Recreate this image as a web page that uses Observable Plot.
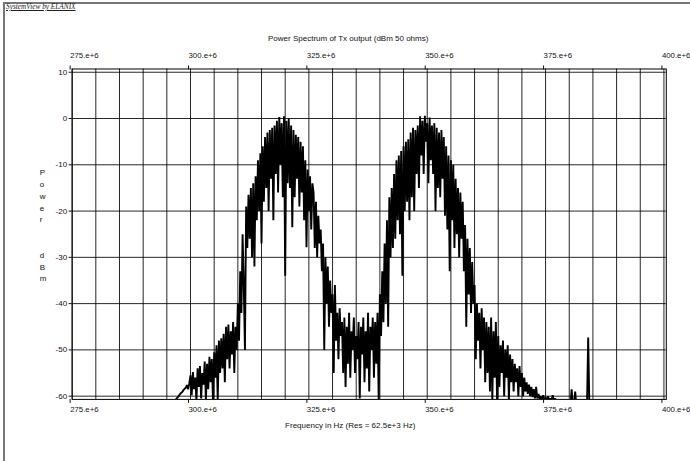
<!DOCTYPE html>
<html>
<head>
<meta charset="utf-8">
<script src="https://cdn.jsdelivr.net/npm/d3@7"></script>
<script src="https://cdn.jsdelivr.net/npm/@observablehq/plot@0.6"></script>
<style>
  html, body { margin: 0; padding: 0; background: #fff; }
  #wrap { position: relative; width: 690px; height: 461px; overflow: hidden; background: #fff; }
  #border { position: absolute; left: 3px; top: 2px; right: -10px; bottom: -10px;
            border-left: 2px solid #777; border-top: 2px solid #777; }
  #brand { position: absolute; left: 6px; top: 2px; font-family: "Liberation Serif", "Times New Roman", serif;
           font-style: italic; font-size: 7.3px; text-decoration: underline; color: #222; }
  #chart { position: absolute; left: 0; top: 0; }
</style>
</head>
<body>
<div id="wrap">
  <div id="border"></div>
  <div id="brand">SystemView by ELANIX</div>
  <div id="chart"></div>
</div>
<script>
// ---- data (frequency in MHz, power in dBm) ----
const title = "Power Spectrum of Tx output (dBm 50 ohms)";
const xLabel = "Frequency in Hz (Res = 62.5e+3 Hz)";
const yLabel = "P\no\nw\ne\nr\n\n\nd\nB\nm";
const xTicks = [275, 300, 325, 350, 375, 400];
const xTickLabels = ["275.e+6", "300.e+6", "325.e+6", "350.e+6", "375.e+6", "400.e+6"];
const yTicks = [10, 0, -10, -20, -30, -40, -50, -60];
const yTickLabels = ["10", "0", "-10", "-20", "-30", "-40", "-50", "-60"];

// spectrum bins: first bin frequency and bin spacing (MHz)
const freqStart = 296.75;
const freqStep = 0.25;
const power = [
  // 296.75 - 299.75
  -61, -60.6, -60.3, -60.0, -59.6, -59.3, -59.1, -58.7, -58.4, -58.2, -57.6, -58.5, -57.2,
  // 300 - 304.75
  -55.5, -59.8, -54.8, -58.5, -56, -61, -54, -58, -53.5, -60.5, -55, -57.5, -52.5, -61, -53, -58.5, -51.5, -57, -52, -61,
  // 305 - 309.75
  -50.5, -56, -49, -61, -48, -55, -47.5, -54, -46.5, -57, -45, -52, -44.5, -54, -46, -51, -44, -55, -45, -50,
  // 310 - 311.75
  -40, -48, -33, -42, -25, -36, -50, -19,
  // 312 - 313.75
  -28, -16.5, -26, -15, -30, -14, -32, -12.5,
  // 314 - 315.25
  -22, -9, -20, -7.5, -27, -6,
  // 315.5 - 317.75
  -18, -4, -15, -3, -20, -2.5, -13, -2, -22, -1.5,
  // 318 - 321.25
  -12, -0.5, -16, 0.3, -10, -1, -17, 0.5, -34, -0.5, -14, 0, -15, -1.5,
  // 321.5 - 323.75
  -23.5, -2.5, -17, -3.5, -13, -4, -19, -5, -16, -6,
  // 324 - 325.75
  -22, -9, -27.8, -11, -20, -12.5, -24, -14,
  // 326 - 327.75
  -16, -28, -18, -30, -21, -27, -24, -33,
  // 328 - 330.25
  -27, -50, -30, -40, -32, -45, -35, -42, -38, -55,
  // 330.5 - 332.25
  -36, -48, -42, -52, -41, -47, -44, -55,
  // 332.5 - 339.75
  -43, -58, -45, -53, -42, -56, -46, -50, -43, -55, -47, -52, -44, -60.5, -45, -51, -43, -57, -46, -54,
  -42, -59, -45, -50, -43, -56, -44, -53, -42, -61,
  // 340 - 341.25
  -38, -47, -33, -44, -27, -40,
  // 341.5 - 342.75
  -22, -45, -17, -30, -15, -28,
  // 343 - 344.5
  -12, -26, -9, -22, -8, -25, -7,
  // 344.75 - 346.25
  -34, -6, -20, -5, -18, -4.5, -22,
  // 346.5 - 348
  -3, -17, -2, -20, -2.5, -12, -1.5,
  // 348.25 - 351.25
  -15, 0.5, -8, -0.5, -12, 0.6, -5, -1, -14, 0.2, -9, -1.5, -12,
  // 351.5 - 353.75
  -1, -20, -2, -15, -3, -17, -2.5, -13, -4, -21,
  // 354 - 355.5
  -6, -24, -8, -33, -9, -22, -10,
  // 355.75 - 357.5
  -28, -13, -25, -15, -30, -16, -26, -18,
  // 357.75 - 359.75
  -33, -23, -45, -26, -38, -28, -42, -31, -40,
  // 360 - 361.75
  -36, -52, -40, -48, -42, -54, -41, -50,
  // 362 - 364.75
  -43, -57, -44, -55, -45, -59, -43, -61, -46, -56, -44, -61,
  // 365 - 367.5
  -47, -58, -49, -55, -48, -60, -50, -56, -49, -61, -51,
  // 367.75 - 370.25
  -57, -52, -59, -53, -57, -54, -60, -53.5, -58, -55, -60,
  // 370.5 - 373
  -56, -59, -57, -59.5, -57.5, -60, -58, -60.2, -58.5, -60.5, -58,
  // 373.25 - 377.5
  -60.5, -59.5, -60.6, -60, -61, -59.8, -61, -60.3, -61, -60, -61, -60.5, -61, -59.8, -61, -60.5, -61, -61,
  // 377.75 - 384.25
  -62, -62, -62, -62, -62, -62, -62, -62, -62, -62, -62, -58.5, -62, -62, -59, -62, -62, -62, -62, -62,
  -62, -62, -62, -62, -62, -47.3, -62
];

const spectrum = power.map((p, i) => ({f: freqStart + i * freqStep, p}));

const ink = "#111";
const chart = Plot.plot({
  width: 690,
  height: 461,
  marginLeft: 71.65,
  marginRight: 24.2,
  marginTop: 68.5,
  marginBottom: 62.1,
  style: {fontFamily: "'Liberation Sans', Arial, sans-serif", fontSize: "8px", color: ink, background: "transparent"},
  x: {domain: [275, 400.5]},
  y: {domain: [-60.7, 10.7]},
  marks: [
    Plot.gridX(d3.range(275, 401, 5), {stroke: "#000", strokeOpacity: 0.85, strokeWidth: 1}),
    Plot.gridY(yTicks, {stroke: "#000", strokeOpacity: 0.85, strokeWidth: 1}),
    Plot.frame({stroke: "#000", strokeWidth: 1}),
    Plot.line(spectrum, {x: "f", y: "p", stroke: "#000", strokeWidth: 1.9, strokeLinejoin: "miter", clip: true}),
    Plot.axisX(xTicks, {anchor: "top", tickSize: 4, tickPadding: 7, textAnchor: "start", dx: -2,
      tickFormat: d => xTickLabels[xTicks.indexOf(d)], label: null, fontSize: 7.8}),
    Plot.axisX(xTicks, {anchor: "bottom", tickSize: 4, tickPadding: 3, textAnchor: "start", dx: -2,
      tickFormat: d => xTickLabels[xTicks.indexOf(d)], label: null, fontSize: 7.8}),
    Plot.axisY(yTicks, {anchor: "left", tickSize: 3, tickPadding: 2,
      tickFormat: d => yTickLabels[yTicks.indexOf(d)], label: null, fontSize: 8}),
    Plot.text([title], {frameAnchor: "top", dx: -21, dy: -33.5, fontSize: 8, fill: ink}),
    Plot.text([xLabel], {frameAnchor: "bottom", dx: -19, dy: 28.5, fontSize: 8, fill: ink}),
    Plot.text([yLabel], {frameAnchor: "left", dx: -32.5, dy: -9.6, fontSize: 8, lineHeight: 1.475, fill: ink})
  ]
});
document.getElementById("chart").appendChild(chart);
</script>
</body>
</html>
